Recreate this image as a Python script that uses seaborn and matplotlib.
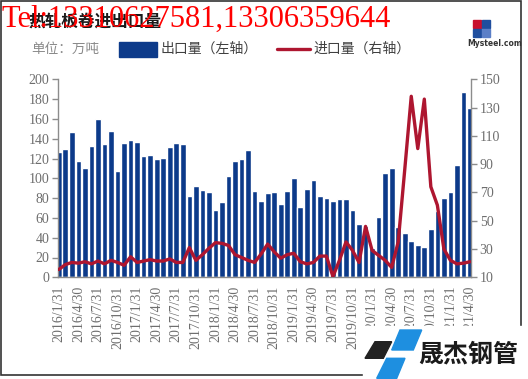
import numpy as np
import pandas as pd
import matplotlib
matplotlib.use("Agg")
import matplotlib.pyplot as plt
from matplotlib.patches import Rectangle, Polygon
from matplotlib.lines import Line2D
import seaborn as sns

# ---------------- data ----------------
months = [f"{d.year}/{d.month}/{d.day}" for d in pd.date_range("2016-01-31", periods=64, freq="ME")]

exports = [127, 130, 147, 117, 110, 133, 160, 135, 148, 107, 136, 139, 137, 123, 124, 120, 121, 132, 136, 135,
           82, 92, 88, 86, 68, 76, 102, 117, 120, 129, 87, 77, 85, 86, 74, 87, 100, 71, 89, 98,
           82, 80, 77, 79, 79, 68, 54, 52, 30, 61, 105, 110, 51, 45, 37, 33, 31, 49, 67, 80, 86, 113, 187, 171]

imports = [15.5, 19, 20.5, 20, 21, 19.5, 21.5, 19.5, 22, 20.5, 18.5, 24.5, 20.5, 21.5, 22.5, 21.5, 21.5, 23, 20.5, 20.5,
           31, 22, 26, 30.5, 34.5, 34, 32.5, 26, 24, 22, 20.5, 26.5, 33.5, 28, 23.5, 26, 27, 21, 19.5, 20.5,
           25, 25, 10.5, 22, 35, 29, 20.5, 46, 29, 25.5, 22, 17, 35, 86, 138, 101, 136, 74, 61, 30, 22, 19.5, 20, 21]

tick_labels = ["2016/1/31", "2016/4/30", "2016/7/31", "2016/10/31", "2017/1/31", "2017/4/30", "2017/7/31",
               "2017/10/31", "2018/1/31", "2018/4/30", "2018/7/31", "2018/10/31", "2019/1/31", "2019/4/30",
               "2019/7/31", "2019/10/31", "2020/1/31", "2020/4/30", "2020/7/31", "2020/10/31", "2021/1/31",
               "2021/4/30"]

left_ticks = list(range(0, 201, 20))
right_ticks = list(range(10, 151, 20))

title = "热轧板卷进出口量"
unit = "单位：万吨"
legend_export = "出口量（左轴）"
legend_import = "进口量（右轴）"
watermark = "Tel:13310627581,13306359644"
logo_text = "晟杰钢管"

# ---------------- style ----------------
sns.set_style("white")
plt.rcParams["font.family"] = ["Liberation Serif", "Noto Sans CJK SC", "DejaVu Sans"]
CJK = ["Noto Sans CJK SC", "DejaVu Sans"]

BLUE = "#0C3A8A"
RED = "#AE1630"
GREY = "#8C8C8C"
TXT = "#6E6E6E"

W, H = 528, 379
fig = plt.figure(figsize=(W / 100, H / 100), dpi=100)


def px(x, y):
    return x / W, 1 - y / H


ax_l, ax_r, ax_t, ax_b = 57.5, 471.3, 79.3, 277.3
ax = fig.add_axes([ax_l / W, 1 - ax_b / H, (ax_r - ax_l) / W, (ax_b - ax_t) / H])

df = pd.DataFrame({"month": months, "export": exports, "import": imports})
sns.barplot(data=df, x="month", y="export", color=BLUE, saturation=1, width=0.87, ax=ax, zorder=2)
ax.set_xlim(-0.2, 63.2)
ax.set_ylim(0, 200)
ax.set_yticks(left_ticks)
ax.set_xticks(np.arange(0, 64, 3))
ax.set_xticklabels(tick_labels, rotation=90)
ax.set_xlabel("")
ax.set_ylabel("")

ax2 = ax.twinx()
sns.lineplot(x=np.arange(64), y=df["import"], color=RED, linewidth=2.4, ax=ax2, zorder=3)
ax2.set_ylim(10, 150)
ax2.set_yticks(right_ticks)
ax2.set_xlim(-0.2, 63.2)
ax2.set_ylabel("")

for a in (ax, ax2):
    for s in a.spines.values():
        s.set_color(GREY)
        s.set_linewidth(1.0)
    a.spines["top"].set_visible(False)
    a.tick_params(colors=GREY, labelcolor=TXT, length=4, width=1, labelsize=10, pad=2)
ax.spines["right"].set_visible(False)
ax2.spines["left"].set_visible(False)
ax2.spines["bottom"].set_visible(False)
ax.tick_params(axis="x", labelsize=10, pad=2)
ax.tick_params(axis="y", left=True, right=False)
ax2.tick_params(axis="y", right=True, left=False)

# ---------------- header texts ----------------
fig.text(*px(28, 21.5), title, family=CJK, fontsize=12, color="#1a1a1a", va="center", ha="left", fontweight="bold")
fig.text(*px(31, 49), unit, family=CJK, fontsize=9.8, color="#8a8a8a", va="center", ha="left")

fig.add_artist(Rectangle(px(119, 56.5), 38 / W, 15 / H, transform=fig.transFigure, color=BLUE))
fig.text(*px(161, 49), legend_export, family=CJK, fontsize=10, color="#404040", va="center", ha="left")
fig.add_artist(Line2D([277 / W, 310 / W], [1 - 49 / H, 1 - 49 / H], transform=fig.transFigure, color=RED, lw=2.4))
fig.text(*px(313, 49), legend_import, family=CJK, fontsize=10, color="#404040", va="center", ha="left")

# Mysteel mark
for (x, y, c) in [(473, 20, "#C8102E"), (482, 20, "#1F4E9E"), (473, 29, "#1F4E9E"), (482, 29, "#5B7FC7")]:
    fig.add_artist(Rectangle(px(x, y + 8), 8 / W, 8 / H, transform=fig.transFigure, color=c))
fig.text(*px(467, 44), "Mysteel.com", fontsize=5.5, color="#333333", va="center", ha="left",
         family=["DejaVu Sans"], fontweight="bold")

# red watermark
fig.text(*px(2, 27), watermark, fontsize=22, color="#FF0000", va="baseline", ha="left",
         family=["Liberation Serif"], zorder=10)

# frame
fig.add_artist(Rectangle(px(1, 375), 520 / W, 374 / H, transform=fig.transFigure,
                         fill=False, edgecolor="#333333", lw=1.2, zorder=5))

# bottom-right logo
fig.add_artist(Rectangle(px(363, 379), 165 / W, 53 / H, transform=fig.transFigure,
                         color="white", zorder=6))
def poly(pts, c):
    fig.add_artist(Polygon([px(x, y) for x, y in pts], closed=True, transform=fig.transFigure,
                           color=c, zorder=7))
poly([(375, 341.7), (391.7, 341.7), (383.3, 358.3), (365, 358.3)], "#222222")
poly([(400, 330), (421.7, 330), (413.3, 350), (391.7, 350)], "#1E8FE0")
poly([(386.7, 358.3), (405, 358.3), (396.7, 378.3), (376.7, 378.3)], "#1E8FE0")
fig.text(*px(418, 355), logo_text, family=CJK, fontsize=18, fontweight="bold", color="#1a1a1a",
         va="center", ha="left", zorder=8)

fig.savefig("out.png", dpi=100)
